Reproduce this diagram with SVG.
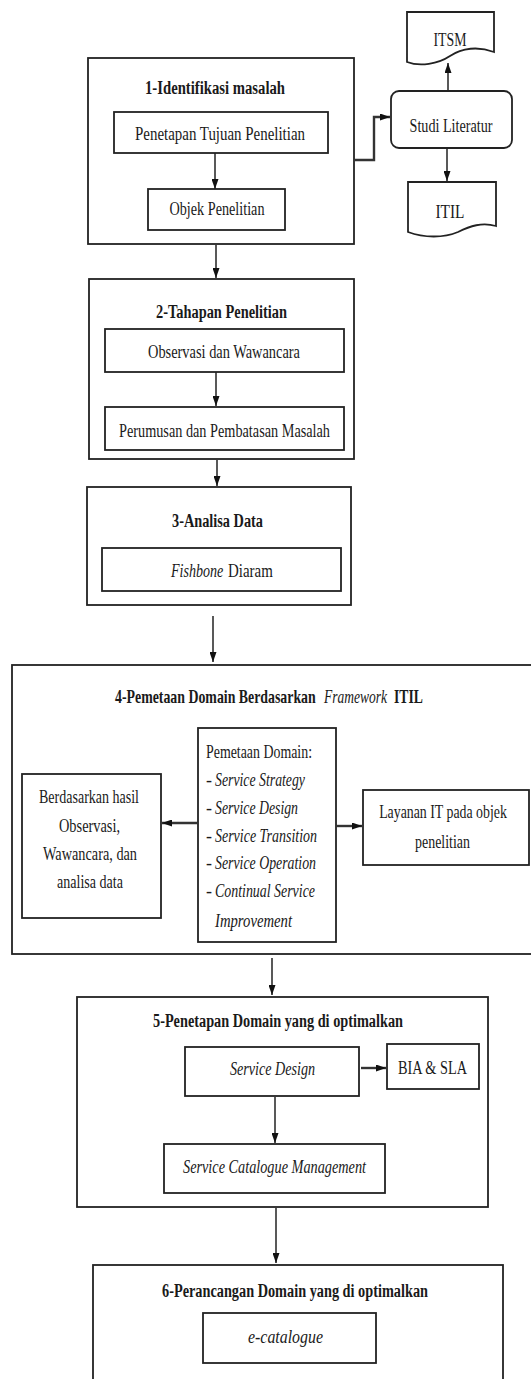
<svg xmlns="http://www.w3.org/2000/svg" width="531" height="1379" viewBox="0 0 531 1379">
<style>
.box{fill:#fff;stroke:#222;stroke-width:1.8}
.t{font-family:"Liberation Serif","Times New Roman",serif;font-size:18px;fill:#1a1a1a}
.b{font-weight:bold}
.i{font-style:italic}
.c{text-anchor:middle}
.ln{fill:none;stroke:#222;stroke-width:1.5}
.thk{fill:none;stroke:#333;stroke-width:2.4}
</style>
<defs>
<marker id="ah" viewBox="0 0 10 7" refX="10" refY="3.5" markerWidth="10" markerHeight="7" markerUnits="userSpaceOnUse" orient="auto">
<path d="M0,0 L10,3.5 L0,7 z" fill="#111"/>
</marker>
</defs>
<rect width="531" height="1379" fill="#fff"/>

<g id="box1">
<rect class="box" x="88" y="58" width="266" height="186"/>
<text class="t b c" x="215" y="94" textLength="140" lengthAdjust="spacingAndGlyphs">1-Identifikasi masalah</text>
</g>
<g id="penetapan">
<rect class="box" x="114" y="112" width="214" height="41"/>
<text class="t c" x="220" y="140" textLength="170" lengthAdjust="spacingAndGlyphs">Penetapan Tujuan Penelitian</text>
</g>
<g id="objek">
<rect class="box" x="148" y="189" width="137" height="41"/>
<text class="t c" x="217" y="215" textLength="95" lengthAdjust="spacingAndGlyphs">Objek Penelitian</text>
</g>
<g id="studi">
<rect class="box" x="391" y="91" width="121" height="57" rx="8"/>
<text class="t c" x="451" y="132" textLength="83" lengthAdjust="spacingAndGlyphs">Studi Literatur</text>
</g>
<g id="itsm">
<path class="box" d="M407,12 H494 V52 C478,46 462,48 450,56 C438,64 420,67 407,62 Z"/>
<text class="t c" x="450" y="46" textLength="33" lengthAdjust="spacingAndGlyphs">ITSM</text>
</g>
<g id="itil">
<path class="box" d="M408,182 H496 V226 C482,222 470,226 458,232 C444,238 424,238 408,232 Z"/>
<text class="t c" x="450" y="218" textLength="29" lengthAdjust="spacingAndGlyphs">ITIL</text>
</g>

<g id="box2">
<rect class="box" x="89" y="279" width="265" height="180"/>
<text class="t b c" x="221.5" y="318" textLength="131" lengthAdjust="spacingAndGlyphs">2-Tahapan Penelitian</text>
</g>
<g id="observasi">
<rect class="box" x="105" y="329" width="239" height="43"/>
<text class="t c" x="224" y="358" textLength="152" lengthAdjust="spacingAndGlyphs">Observasi dan Wawancara</text>
</g>
<g id="perumusan">
<rect class="box" x="105" y="407" width="239" height="43"/>
<text class="t c" x="224.5" y="437" textLength="211" lengthAdjust="spacingAndGlyphs">Perumusan dan Pembatasan Masalah</text>
</g>

<g id="box3">
<rect class="box" x="87" y="487" width="264" height="118"/>
<text class="t b c" x="217.5" y="527" textLength="91" lengthAdjust="spacingAndGlyphs">3-Analisa Data</text>
</g>
<g id="fishbone">
<rect class="box" x="102" y="548" width="239" height="43"/>
<text class="t i" transform="translate(171,577) scale(0.78,1)">Fishbone</text>
<text class="t" transform="translate(228,577) scale(0.83,1)">Diaram</text>
</g>

<g id="box4">
<rect class="box" x="12" y="665" width="530" height="289"/>
<text class="t b" transform="translate(115,703) scale(0.77,1)">4-Pemetaan Domain Berdasarkan</text>
<text class="t i" transform="translate(324,703) scale(0.75,1)">Framework</text>
<text class="t b" transform="translate(394,703) scale(0.76,1)">ITIL</text>
</g>
<g id="pemetaan">
<rect class="box" x="198" y="728" width="138" height="214"/>
<text class="t" x="206" y="758" textLength="106" lengthAdjust="spacingAndGlyphs">Pemetaan Domain:</text>
<text class="t" x="206" y="786">- <tspan class="i" x="215" textLength="90" lengthAdjust="spacingAndGlyphs">Service Strategy</tspan></text>
<text class="t" x="206" y="814">- <tspan class="i" x="215" textLength="83" lengthAdjust="spacingAndGlyphs">Service Design</tspan></text>
<text class="t" x="206" y="842">- <tspan class="i" x="215" textLength="102" lengthAdjust="spacingAndGlyphs">Service Transition</tspan></text>
<text class="t" x="206" y="869">- <tspan class="i" x="215" textLength="101" lengthAdjust="spacingAndGlyphs">Service Operation</tspan></text>
<text class="t" x="206" y="897">- <tspan class="i" x="215" textLength="100" lengthAdjust="spacingAndGlyphs">Continual Service</tspan></text>
<text class="t i" x="215" y="927" textLength="77" lengthAdjust="spacingAndGlyphs">Improvement</text>
</g>
<g id="berdasarkan">
<rect class="box" x="22" y="774" width="139" height="144"/>
<text class="t c" x="89" y="803" textLength="100" lengthAdjust="spacingAndGlyphs">Berdasarkan hasil</text>
<text class="t c" x="89.5" y="832" textLength="61" lengthAdjust="spacingAndGlyphs">Observasi,</text>
<text class="t c" x="90" y="860" textLength="94" lengthAdjust="spacingAndGlyphs">Wawancara, dan</text>
<text class="t c" x="90" y="888" textLength="66" lengthAdjust="spacingAndGlyphs">analisa data</text>
</g>
<g id="layanan">
<rect class="box" x="363" y="790" width="166" height="75"/>
<text class="t c" transform="translate(443,818) scale(0.77,1)">Layanan IT pada objek</text>
<text class="t c" x="442.5" y="848" textLength="55" lengthAdjust="spacingAndGlyphs">penelitian</text>
</g>

<g id="box5">
<rect class="box" x="77" y="997" width="411" height="210"/>
<text class="t b c" x="278" y="1027" textLength="250" lengthAdjust="spacingAndGlyphs">5-Penetapan Domain yang di optimalkan</text>
</g>
<g id="servicedesign">
<rect class="box" x="185" y="1047" width="174" height="49"/>
<text class="t i c" x="272.5" y="1075" textLength="85" lengthAdjust="spacingAndGlyphs">Service Design</text>
</g>
<g id="bia">
<rect class="box" x="387" y="1044" width="92" height="45"/>
<text class="t c" x="432.5" y="1074" textLength="69" lengthAdjust="spacingAndGlyphs">BIA &amp; SLA</text>
</g>
<g id="scm">
<rect class="box" x="164" y="1144" width="221" height="49"/>
<text class="t i c" x="274.5" y="1173" textLength="183" lengthAdjust="spacingAndGlyphs">Service Catalogue Management</text>
</g>

<g id="box6">
<rect class="box" x="93" y="1265" width="410" height="130"/>
<text class="t b c" x="295" y="1297" textLength="266" lengthAdjust="spacingAndGlyphs">6-Perancangan Domain yang di optimalkan</text>
</g>
<g id="ecatalogue">
<rect class="box" x="203" y="1313" width="173" height="50"/>
<text class="t i c" x="285.5" y="1343" textLength="75" lengthAdjust="spacingAndGlyphs">e-catalogue</text>
</g>

<g id="connectors">
<line class="ln" x1="215" y1="153" x2="215" y2="189" marker-end="url(#ah)"/>
<polyline class="thk" points="354,160 374,160 374,117 390,117" marker-end="url(#ah)"/>
<line class="ln" x1="448" y1="91" x2="448" y2="63" marker-end="url(#ah)"/>
<line class="ln" x1="447" y1="148" x2="447" y2="181" marker-end="url(#ah)"/>
<line class="ln" x1="216" y1="245" x2="216" y2="278" marker-end="url(#ah)"/>
<line class="ln" x1="216" y1="372" x2="216" y2="406" marker-end="url(#ah)"/>
<line class="ln" x1="217" y1="460" x2="217" y2="486" marker-end="url(#ah)"/>
<line class="ln" x1="213" y1="616" x2="213" y2="662" marker-end="url(#ah)"/>
<line class="thk" x1="198" y1="823" x2="162" y2="823" marker-end="url(#ah)"/>
<line class="thk" x1="336" y1="826" x2="362" y2="826" marker-end="url(#ah)"/>
<line class="ln" x1="272" y1="958" x2="272" y2="995" marker-end="url(#ah)"/>
<line class="thk" x1="361" y1="1068" x2="386" y2="1068" marker-end="url(#ah)"/>
<line class="ln" x1="275" y1="1097" x2="275" y2="1143" marker-end="url(#ah)"/>
<line class="ln" x1="276" y1="1208" x2="276" y2="1263" marker-end="url(#ah)"/>
</g>
</svg>
